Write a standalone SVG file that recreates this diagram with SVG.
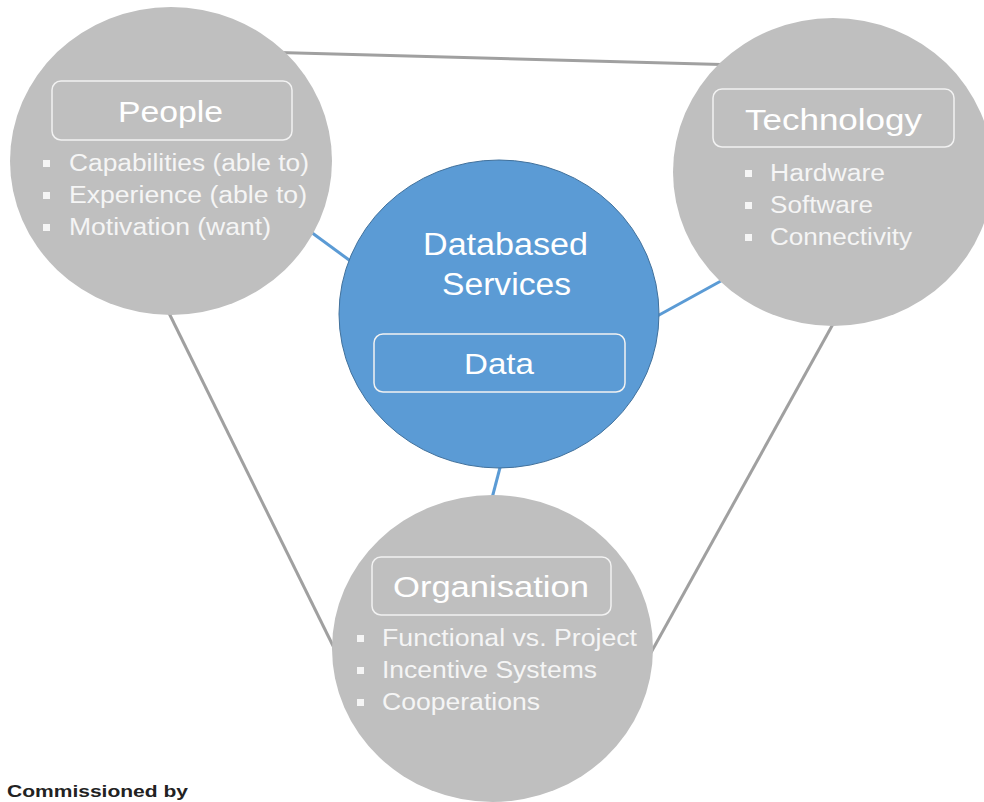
<svg xmlns="http://www.w3.org/2000/svg" width="984" height="802" viewBox="0 0 984 802">
<style>
.gc{fill:#BFBFBF;}
.bc{fill:#5B9BD5;stroke:#41719C;stroke-width:1;}
.box{fill:none;stroke:#F2F2F2;stroke-width:1.5;}
.t{font-family:"Liberation Sans",Arial,sans-serif;fill:#FFFFFF;}
.ttl{font-size:30px;}
.bl{font-size:23px;fill:#F5F5F5;}
.sq{fill:#F5F5F5;}
.gl{stroke:#A0A0A0;stroke-width:3;fill:none;}
.bln{stroke:#5B9BD5;stroke-width:3;fill:none;}
</style>
<rect width="984" height="802" fill="#FFFFFF"/>
<g id="connectors">
<line class="gl" x1="260" y1="52" x2="740" y2="65"/>
<line class="gl" x1="165" y1="305" x2="340" y2="660"/>
<line class="gl" x1="838" y1="315" x2="648" y2="658"/>
<line class="bln" x1="300" y1="224" x2="360" y2="268"/>
<line class="bln" x1="650" y1="320" x2="730" y2="276"/>
<line class="bln" x1="502" y1="460" x2="491" y2="502"/>
</g>
<g id="people">
<ellipse class="gc" cx="171" cy="161" rx="161" ry="154"/>
<rect class="box" x="52" y="81" width="240" height="59" rx="9"/>
<text class="t ttl" x="118" y="122" textLength="105" lengthAdjust="spacingAndGlyphs">People</text>
<rect class="sq" x="43" y="160" width="7" height="7"/>
<rect class="sq" x="43" y="192" width="7" height="7"/>
<rect class="sq" x="43" y="224" width="7" height="7"/>
<text class="t bl" x="69" y="171" textLength="240" lengthAdjust="spacingAndGlyphs">Capabilities (able to)</text>
<text class="t bl" x="69" y="203" textLength="238" lengthAdjust="spacingAndGlyphs">Experience (able to)</text>
<text class="t bl" x="69" y="235" textLength="202" lengthAdjust="spacingAndGlyphs">Motivation  (want)</text>
</g>
<g id="technology">
<ellipse class="gc" cx="833" cy="172" rx="160" ry="154"/>
<rect class="box" x="713" y="89" width="241" height="58" rx="9"/>
<text class="t ttl" x="745" y="130" textLength="177" lengthAdjust="spacingAndGlyphs">Technology</text>
<rect class="sq" x="745" y="170" width="7" height="7"/>
<rect class="sq" x="745" y="202" width="7" height="7"/>
<rect class="sq" x="745" y="234" width="7" height="7"/>
<text class="t bl" x="770" y="181" textLength="115" lengthAdjust="spacingAndGlyphs">Hardware</text>
<text class="t bl" x="770" y="213" textLength="103" lengthAdjust="spacingAndGlyphs">Software</text>
<text class="t bl" x="770" y="245" textLength="142" lengthAdjust="spacingAndGlyphs">Connectivity</text>
</g>
<g id="services">
<ellipse class="bc" cx="499" cy="314" rx="160" ry="154"/>
<text class="t" font-size="31" x="423" y="255" textLength="165" lengthAdjust="spacingAndGlyphs">Databased</text>
<text class="t" font-size="31" x="442" y="295" textLength="129" lengthAdjust="spacingAndGlyphs">Services</text>
<rect class="box" x="374" y="334" width="251" height="58" rx="9" stroke="#FFFFFF"/>
<text class="t ttl" x="464" y="374" textLength="70" lengthAdjust="spacingAndGlyphs">Data</text>
</g>
<g id="organisation">
<ellipse class="gc" cx="492.500" cy="648.500" rx="160.500" ry="153.500"/>
<rect class="box" x="372" y="557" width="239" height="58" rx="9"/>
<text class="t ttl" x="393" y="597" textLength="196" lengthAdjust="spacingAndGlyphs">Organisation</text>
<rect class="sq" x="357" y="635" width="7" height="7"/>
<rect class="sq" x="357" y="667" width="7" height="7"/>
<rect class="sq" x="357" y="699" width="7" height="7"/>
<text class="t bl" x="382" y="646" textLength="255" lengthAdjust="spacingAndGlyphs">Functional vs. Project</text>
<text class="t bl" x="382" y="678" textLength="215" lengthAdjust="spacingAndGlyphs">Incentive Systems</text>
<text class="t bl" x="382" y="710" textLength="158" lengthAdjust="spacingAndGlyphs">Cooperations</text>
</g>
<g id="footer">
<text x="7" y="797" font-family="'Liberation Sans',Arial,sans-serif" font-size="16" font-weight="bold" fill="#222222" textLength="181" lengthAdjust="spacingAndGlyphs">Commissioned by</text>
</g>
</svg>
